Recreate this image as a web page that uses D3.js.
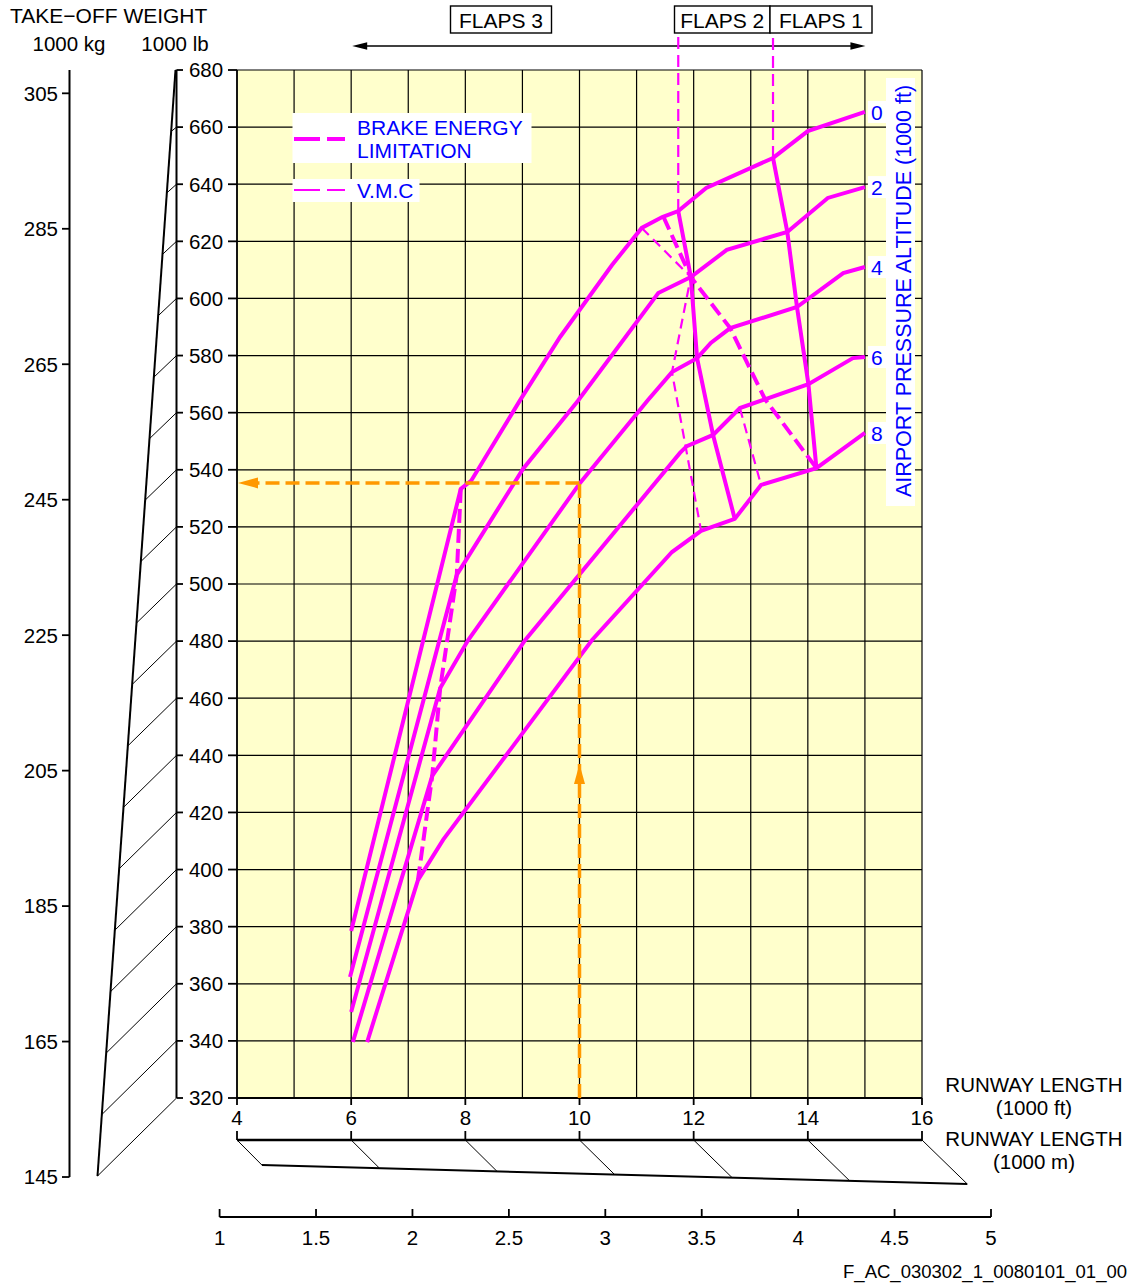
<!DOCTYPE html>
<html><head><meta charset="utf-8">
<script src="https://cdn.jsdelivr.net/npm/d3@7"></script>
<style>
body{margin:0;background:#fff}
svg{display:block}
text{font-family:"Liberation Sans",Arial,Helvetica,sans-serif;fill:#000}
</style>
</head><body>
<svg id="c" width="1141" height="1284"></svg>
<script>
// ---------------- DATA ----------------
// runway length (1000 ft), take-off weight (1000 lb)
const altitudeLabels = ["0", "2", "4", "6", "8"];
const alt0 = [[6.00,378.5],[7.92,533.3],[8.10,536.1],[8.96,564.4],[9.66,586.5],[10.57,611.7],[11.09,624.7],[11.45,628.5],[11.73,630.6],[12.22,638.7],[13.39,649.2],[14.00,658.6],[15.00,665.3]];
const alt2 = [[5.98,362.4],[7.85,503.2],[9.01,540.3],[9.97,564.1],[11.38,601.9],[11.95,607.5],[12.58,617.0],[13.64,623.3],[14.35,635.2],[15.00,639.0]];
const alt4 = [[6.00,350.1],[7.56,463.6],[8.05,480.4],[10.01,535.4],[11.20,564.4],[11.62,574.2],[12.06,579.1],[12.30,584.4],[12.64,589.6],[13.81,597.0],[14.62,608.9],[15.00,611.0]];
const alt6 = [[6.03,339.6],[7.42,432.8],[9.05,480.4],[11.76,545.9],[11.88,548.3],[12.34,552.2],[12.81,561.6],[14.01,570.0],[14.79,579.1],[15.00,579.5]];
const alt8 = [[6.28,339.6],[7.17,396.3],[7.61,410.4],[10.22,480.4],[11.62,511.2],[12.13,518.6],[12.72,522.8],[13.18,534.7],[14.15,540.6],[15.00,552.9]];

const brakeLeft  = [[7.92,533.3],[7.85,503.2],[7.56,463.6],[7.42,432.8],[7.17,396.3]];
const brakeRight = [[11.47,628.6],[11.95,607.5],[12.64,589.6],[13.25,564.7],[14.15,540.6]];
const flaps23Boundary = [[11.73,630.6],[11.95,607.5],[12.06,579.1],[12.34,552.2],[12.72,522.8]];
const flaps12Boundary = [[13.39,649.2],[13.64,623.3],[13.81,597.0],[14.01,570.0],[14.15,540.6]];
const vmcA = [[11.09,624.7],[11.95,607.5],[11.62,574.2],[12.13,518.6]];
const vmcB = [[12.81,561.6],[13.18,534.7]];
const vmcVerticals = [[11.73,630.6],[13.39,649.2]];   // [runway, weight at lower end]
const vmcTopWeight = 693;                              // upper end, under the flap boxes

const exampleRunway = 10, exampleWeight = 535.4, exampleArrowWeight = 437;

const lbTicks = [320,340,360,380,400,420,440,460,480,500,520,540,560,580,600,620,640,660,680];
const kgTicks = [145,165,185,205,225,245,265,285,305];
const ftTicks = [4,6,8,10,12,14,16];
const mTicks  = [1,1.5,2,2.5,3,3.5,4,4.5,5];
const flapBoxes = [{label:"FLAPS 3",x0:450.5,x1:551.5},{label:"FLAPS 2",x0:674.5,x1:770},{label:"FLAPS 1",x0:770,x1:872}];

const LB_PER_KG = 2.20462, FT_TO_M = 0.3048;
const MAG = "#ff00ff", ORANGE = "#ff9900", BLUE = "#0000ff", YELLOW = "#ffffcc";

// ---------------- SCALES ----------------
const x  = d3.scaleLinear().domain([4,16]).range([237,922]);
const y  = d3.scaleLinear().domain([320,680]).range([1098,70]);
const yKg = d3.scaleLinear().domain([320/LB_PER_KG, 680/LB_PER_KG]).range([1176,70]);
const slantKgX = d3.scaleLinear().domain([1176,70]).range([97.5,175.5]);
const xM = d3.scaleLinear().domain([1,5]).range([219.6,991]);
const slantMY = d3.scaleLinear().domain([xM(4*FT_TO_M), xM(16*FT_TO_M)]).range([1165,1184]);

const svg = d3.select("#c");
svg.append("rect").attr("width",1141).attr("height",1284).attr("fill","#fff");

// ---------------- PLOT AREA ----------------
svg.append("rect").attr("x",x(4)).attr("y",y(680)).attr("width",x(16)-x(4)).attr("height",y(320)-y(680)).attr("fill",YELLOW);
const grid = svg.append("g").attr("stroke","#000").attr("stroke-width",1.2);
grid.selectAll("line.gx").data(d3.range(4,17,1)).join("line").attr("class","gx")
  .attr("x1",d=>x(d)).attr("x2",d=>x(d)).attr("y1",y(320)).attr("y2",y(680));
grid.selectAll("line.gy").data(lbTicks).join("line").attr("class","gy")
  .attr("x1",x(4)).attr("x2",x(16)).attr("y1",d=>y(d)).attr("y2",d=>y(d));
svg.append("line").attr("x1",x(4)).attr("x2",x(16)).attr("y1",y(320)).attr("y2",y(320)).attr("stroke","#000").attr("stroke-width",1.8);
svg.append("line").attr("x1",x(4)).attr("x2",x(4)).attr("y1",y(320)).attr("y2",y(680)).attr("stroke","#000").attr("stroke-width",1.6);

// ---------------- WEIGHT AXES ----------------
const ax = svg.append("g");
ax.append("line").attr("x1",176.5).attr("x2",176.5).attr("y1",y(680)).attr("y2",y(320)).attr("stroke","#000").attr("stroke-width",2);
ax.selectAll("line.tl").data(lbTicks).join("line").attr("class","tl")
  .attr("x1",176.5).attr("x2",183).attr("y1",d=>y(d)).attr("y2",d=>y(d)).attr("stroke","#000").attr("stroke-width",1.8);
ax.selectAll("line.tr").data(lbTicks).join("line").attr("class","tr")
  .attr("x1",228).attr("x2",x(4)).attr("y1",d=>y(d)).attr("y2",d=>y(d)).attr("stroke","#000").attr("stroke-width",1.8);
ax.selectAll("text.lb").data(lbTicks).join("text").attr("class","lb")
  .attr("x",206).attr("y",d=>y(d)).attr("dy","0.36em").attr("text-anchor","middle").attr("font-size",20.5).text(d=>d);
// conversion diagonals lb -> kg
ax.selectAll("line.dg").data(lbTicks).join("line").attr("class","dg")
  .attr("x1",176.5).attr("y1",d=>y(d))
  .attr("x2",d=>slantKgX(yKg(d/LB_PER_KG))).attr("y2",d=>yKg(d/LB_PER_KG))
  .attr("stroke","#000").attr("stroke-width",1);
ax.append("line").attr("x1",slantKgX(1176)).attr("y1",1176).attr("x2",slantKgX(70)).attr("y2",70).attr("stroke","#000").attr("stroke-width",2);
// kg axis
ax.append("line").attr("x1",69.5).attr("x2",69.5).attr("y1",70).attr("y2",yKg(145)).attr("stroke","#000").attr("stroke-width",2);
ax.selectAll("line.tk").data(kgTicks).join("line").attr("class","tk")
  .attr("x1",62).attr("x2",69.5).attr("y1",d=>yKg(d)).attr("y2",d=>yKg(d)).attr("stroke","#000").attr("stroke-width",1.8);
ax.selectAll("text.kg").data(kgTicks).join("text").attr("class","kg")
  .attr("x",58).attr("y",d=>yKg(d)).attr("dy","0.36em").attr("text-anchor","end").attr("font-size",20.5).text(d=>d);

svg.append("text").attr("x",10).attr("y",23).attr("font-size",21).text("TAKE\u2212OFF WEIGHT");
svg.append("text").attr("x",69).attr("y",51).attr("text-anchor","middle").attr("font-size",20.5).text("1000 kg");
svg.append("text").attr("x",175).attr("y",51).attr("text-anchor","middle").attr("font-size",20.5).text("1000 lb");

// ---------------- RUNWAY AXES ----------------
const bx = svg.append("g");
bx.selectAll("line.tf").data(ftTicks).join("line").attr("class","tf")
  .attr("x1",d=>x(d)).attr("x2",d=>x(d)).attr("y1",y(320)).attr("y2",y(320)+7).attr("stroke","#000").attr("stroke-width",1.8);
bx.selectAll("text.ft").data(ftTicks).join("text").attr("class","ft")
  .attr("x",d=>x(d)).attr("y",1125).attr("text-anchor","middle").attr("font-size",20.5).text(d=>d);
bx.append("line").attr("x1",x(4)).attr("x2",x(16)).attr("y1",1140).attr("y2",1140).attr("stroke","#000").attr("stroke-width",2.5);
bx.selectAll("line.tu").data(ftTicks).join("line").attr("class","tu")
  .attr("x1",d=>x(d)).attr("x2",d=>x(d)).attr("y1",1131).attr("y2",1140).attr("stroke","#000").attr("stroke-width",1.8);
bx.selectAll("line.dm").data(ftTicks).join("line").attr("class","dm")
  .attr("x1",d=>x(d)).attr("y1",1140)
  .attr("x2",d=>xM(d*FT_TO_M)).attr("y2",d=>slantMY(xM(d*FT_TO_M)))
  .attr("stroke","#000").attr("stroke-width",1);
bx.append("line").attr("x1",xM(4*FT_TO_M)).attr("y1",slantMY(xM(4*FT_TO_M))).attr("x2",xM(16*FT_TO_M)).attr("y2",slantMY(xM(16*FT_TO_M))).attr("stroke","#000").attr("stroke-width",2);
bx.append("line").attr("x1",xM(1)).attr("x2",xM(5)).attr("y1",1217).attr("y2",1217).attr("stroke","#000").attr("stroke-width",2);
bx.selectAll("line.tm").data(mTicks).join("line").attr("class","tm")
  .attr("x1",d=>xM(d)).attr("x2",d=>xM(d)).attr("y1",1209).attr("y2",1217).attr("stroke","#000").attr("stroke-width",1.8);
bx.selectAll("text.m").data(mTicks).join("text").attr("class","m")
  .attr("x",d=>xM(d)).attr("y",1245).attr("text-anchor","middle").attr("font-size",20.5).text(d=>d);

const rl = [["RUNWAY LENGTH",1092],["(1000 ft)",1115],["RUNWAY LENGTH",1146],["(1000 m)",1169]];
svg.selectAll("text.rl").data(rl).join("text").attr("class","rl")
  .attr("x",1034).attr("y",d=>d[1]).attr("text-anchor","middle").attr("font-size",20.5).text(d=>d[0]);
svg.append("text").attr("x",1127).attr("y",1278).attr("text-anchor","end").attr("font-size",18.5).text("F_AC_030302_1_0080101_01_00");

// ---------------- FLAPS HEADER ----------------
const fb = svg.append("g");
fb.selectAll("rect").data(flapBoxes).join("rect")
  .attr("x",d=>d.x0).attr("y",6).attr("width",d=>d.x1-d.x0).attr("height",27)
  .attr("fill","#fff").attr("stroke","#000").attr("stroke-width",1.4);
fb.selectAll("text").data(flapBoxes).join("text")
  .attr("x",d=>(d.x0+d.x1)/2).attr("y",27.5).attr("text-anchor","middle").attr("font-size",21).text(d=>d.label);
const ay = 46, axL = x(6)+1, axR = x(15)+0.5;
fb.append("line").attr("x1",axL+10).attr("x2",axR-10).attr("y1",ay).attr("y2",ay).attr("stroke","#000").attr("stroke-width",1.4);
fb.append("path").attr("d",`M${axL},${ay}L${axL+15},${ay-3.8}L${axL+15},${ay+3.8}Z`).attr("fill","#000");
fb.append("path").attr("d",`M${axR},${ay}L${axR-15},${ay-3.8}L${axR-15},${ay+3.8}Z`).attr("fill","#000");

// ---------------- LEGEND ----------------
const lg = svg.append("g");
lg.append("rect").attr("x",292.5).attr("y",113).attr("width",239).attr("height",50).attr("fill","#fff");
lg.append("rect").attr("x",292.5).attr("y",179).attr("width",127).attr("height",23).attr("fill","#fff");
lg.append("line").attr("x1",294).attr("x2",345).attr("y1",139).attr("y2",139).attr("stroke",MAG).attr("stroke-width",4).attr("stroke-dasharray","26,7");
lg.append("line").attr("x1",294).attr("x2",345).attr("y1",190).attr("y2",190).attr("stroke",MAG).attr("stroke-width",2.2).attr("stroke-dasharray","26,7");
lg.append("text").attr("x",357).attr("y",134.5).attr("font-size",21).style("fill",BLUE).text("BRAKE ENERGY");
lg.append("text").attr("x",357).attr("y",157.5).attr("font-size",21).style("fill",BLUE).text("LIMITATION");
lg.append("text").attr("x",357).attr("y",197.5).attr("font-size",21).style("fill",BLUE).text("V.M.C");

// ---------------- CURVES ----------------
const line = d3.line().x(d=>x(d[0])).y(d=>y(d[1]));
const curves = [alt0, alt2, alt4, alt6, alt8];
const cg = svg.append("g").attr("fill","none").attr("stroke",MAG);
cg.selectAll("path.vmc").data([vmcA, vmcB]).join("path").attr("class","vmc").attr("d",line)
  .attr("stroke-width",2.2).attr("stroke-dasharray","10,6");
cg.selectAll("line.vv").data(vmcVerticals).join("line").attr("class","vv")
  .attr("x1",d=>x(d[0])).attr("x2",d=>x(d[0])).attr("y1",d=>y(d[1])).attr("y2",y(vmcTopWeight))
  .attr("stroke-width",2.2).attr("stroke-dasharray","12,6");
cg.selectAll("path.cv").data(curves).join("path").attr("class","cv").attr("d",line).attr("stroke-width",4);
cg.selectAll("path.fl").data([flaps23Boundary, flaps12Boundary]).join("path").attr("class","fl").attr("d",line).attr("stroke-width",4);
cg.selectAll("path.be").data([brakeLeft, brakeRight]).join("path").attr("class","be").attr("d",line)
  .attr("stroke-width",4).attr("stroke-dasharray","14,6");

// altitude labels
const ends = curves.map((c,i)=>({lab:altitudeLabels[i], p:c[c.length-1]}));
const al = svg.append("g");
al.selectAll("rect").data(ends).join("rect")
  .attr("x",d=>x(d.p[0])+3).attr("y",d=>y(d.p[1])-11).attr("width",19).attr("height",22).attr("fill","#fff");
al.selectAll("text").data(ends).join("text")
  .attr("x",d=>x(d.p[0])+12).attr("y",d=>y(d.p[1])).attr("dy","0.36em").attr("text-anchor","middle")
  .attr("font-size",21).style("fill",BLUE).text(d=>d.lab);
al.append("rect").attr("x",886).attr("y",78).attr("width",29).attr("height",428).attr("fill","#fff");
al.append("text").attr("transform","translate(911,291) rotate(-90)").attr("text-anchor","middle")
  .attr("font-size",21.5).style("fill",BLUE).text("AIRPORT PRESSURE ALTITUDE (1000 ft)");

// ---------------- EXAMPLE (orange) ----------------
const og = svg.append("g");
const ex = x(exampleRunway), eyy = y(exampleWeight);
og.append("line").attr("x1",ex).attr("x2",ex).attr("y1",y(320)).attr("y2",eyy)
  .attr("stroke",ORANGE).attr("stroke-width",3.5).attr("stroke-dasharray","14,6");
og.append("line").attr("x1",ex).attr("x2",x(4)+18).attr("y1",eyy).attr("y2",eyy)
  .attr("stroke",ORANGE).attr("stroke-width",3.5).attr("stroke-dasharray","14,6");
const at = y(exampleArrowWeight);
og.append("path").attr("d",`M${ex},${at}L${ex-5.5},${at+20}L${ex+5.5},${at+20}Z`).attr("fill",ORANGE);
const lt = x(4)+1;
og.append("path").attr("d",`M${lt},${eyy}L${lt+20},${eyy-5.5}L${lt+20},${eyy+5.5}Z`).attr("fill",ORANGE);
</script>
</body></html>
